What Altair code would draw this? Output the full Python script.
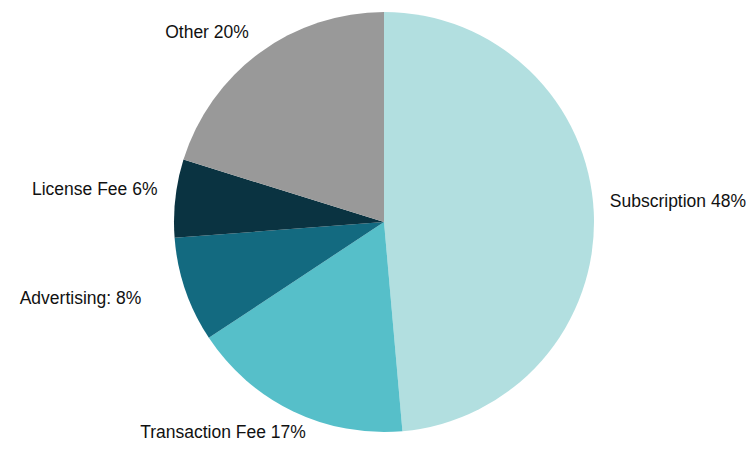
import altair as alt
import pandas as pd

categories = ["Subscription", "Transaction Fee", "Advertising", "License Fee", "Other"]
values = [48.6, 17.1, 8.1, 6.0, 20.2]
labels = ["Subscription 48%", "Transaction Fee 17%", "Advertising: 8%", "License Fee 6%", "Other 20%"]
colors = ["#b2dfe0", "#56bfc9", "#136a80", "#0a3341", "#999999"]

df = pd.DataFrame({
    "category": categories,
    "value": values,
    "label": labels,
    "order": list(range(len(categories))),
})
total = float(sum(values))

CX, CY = 376, 214
theta_scale = alt.Scale(domain=[0, total])

pie = alt.Chart(df).mark_arc(outerRadius=210, stroke=None).encode(
    theta=alt.Theta("value:Q", stack=True, scale=theta_scale),
    order=alt.Order("order:Q"),
    color=alt.Color("category:N", scale=alt.Scale(domain=categories, range=colors), legend=None),
    x=alt.value(CX),
    y=alt.value(CY),
)

text_base = alt.Chart(df).transform_stack(
    stack="value", groupby=[], as_=["v0", "v1"], sort=[alt.SortField("order")]
).transform_calculate(mid="(datum.v0 + datum.v1) / 2")

def lab(cat, align, dx, dy):
    return text_base.transform_filter(alt.datum.category == cat).mark_text(
        radius=228, align=align, baseline="middle", dx=dx, dy=dy,
        font="Liberation Sans", fontSize=17.5, color="#111111"
    ).encode(
        theta=alt.Theta("mid:Q", stack=None, scale=theta_scale),
        text="label:N",
        x=alt.value(CX),
        y=alt.value(CY),
    )

chart = alt.layer(
    pie,
    lab("Subscription", "left", -2, -10),
    lab("Transaction Fee", "center", -62, 6),
    lab("Advertising", "right", -27, 3),
    lab("License Fee", "right", 0, -6),
    lab("Other", "right", 0, -5),
).properties(
    width=738, height=436,
    autosize=alt.AutoSizeParams(type="none"),
    padding=0,
).configure_view(stroke=None)

chart.save("out.html", embed_options={"renderer": "svg", "actions": False})
